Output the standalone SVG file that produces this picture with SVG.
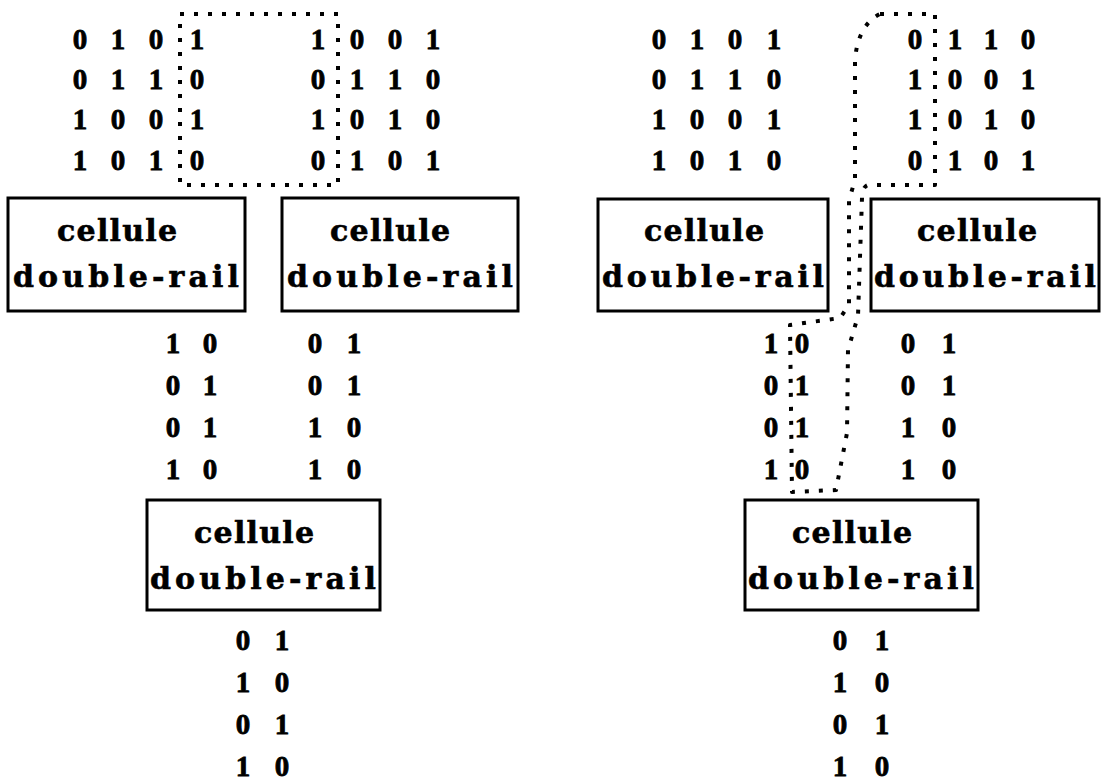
<svg xmlns="http://www.w3.org/2000/svg" width="1101" height="781" viewBox="0 0 1101 781">
<style>
.bg{fill:#fff}
.box{fill:none;stroke:#000;stroke-width:3}
.lbl{font-family:"DejaVu Serif","Liberation Serif",serif;font-weight:bold;font-size:30px;fill:#000;stroke:#000;stroke-width:0.6;text-anchor:middle}
.d{font-family:"Liberation Serif","Times New Roman",serif;font-weight:bold;font-size:29px;fill:#000;stroke:#000;stroke-width:0.8;text-anchor:middle}
.dot{fill:none;stroke:#000;stroke-width:4;stroke-dasharray:4 10;stroke-linejoin:round}
</style>
<rect class="bg" x="0" y="0" width="1101" height="781"/>

<g id="connectors">
  <path class="dot" d="M180 14 L338 14 L338 185 L180 185 Z"/>
  <path class="dot" d="M880 14 L935 14 L935 185 L868 185 Q862 187 862 198 L858 316 L848 350 L847 433 L836 490 L792 492 L790 325 L840 318 L849 305 L849 200 L855 180 L855 60 Q858 25 880 14"/>
</g>

<g id="matrix-a">
  <text class="d" x="80 118 156 197" y="49">0101</text>
  <text class="d" x="80 118 156 197" y="89">0110</text>
  <text class="d" x="80 118 156 197" y="129">1001</text>
  <text class="d" x="80 118 156 197" y="170">1010</text>
</g>
<g id="matrix-b">
  <text class="d" x="318 357 395 433" y="49">1001</text>
  <text class="d" x="318 357 395 433" y="89">0110</text>
  <text class="d" x="318 357 395 433" y="129">1010</text>
  <text class="d" x="318 357 395 433" y="170">0101</text>
</g>
<g id="matrix-c">
  <text class="d" x="659 697 735 774" y="49">0101</text>
  <text class="d" x="659 697 735 774" y="89">0110</text>
  <text class="d" x="659 697 735 774" y="129">1001</text>
  <text class="d" x="659 697 735 774" y="170">1010</text>
</g>
<g id="matrix-d">
  <text class="d" x="915 955 991 1028" y="49">0110</text>
  <text class="d" x="915 955 991 1028" y="89">1001</text>
  <text class="d" x="915 955 991 1028" y="129">1010</text>
  <text class="d" x="915 955 991 1028" y="170">0101</text>
</g>

<g id="cell-1">
  <rect class="box" x="8" y="198" width="237" height="113"/>
  <text class="lbl" x="117" y="241" textLength="120">cellule</text>
  <text class="lbl" x="126" y="287" textLength="226">double-rail</text>
</g>
<g id="cell-2">
  <rect class="box" x="282" y="198" width="236" height="113"/>
  <text class="lbl" x="390" y="241" textLength="120">cellule</text>
  <text class="lbl" x="400" y="287" textLength="226">double-rail</text>
</g>
<g id="cell-4">
  <rect class="box" x="598" y="199" width="230" height="112"/>
  <text class="lbl" x="704" y="241" textLength="120">cellule</text>
  <text class="lbl" x="713" y="287" textLength="222">double-rail</text>
</g>
<g id="cell-5">
  <rect class="box" x="871" y="199" width="228" height="112"/>
  <text class="lbl" x="977" y="241" textLength="120">cellule</text>
  <text class="lbl" x="985" y="287" textLength="222">double-rail</text>
</g>

<g id="pairs-left">
  <text class="d" x="173 210" y="353">10</text>
  <text class="d" x="173 210" y="395">01</text>
  <text class="d" x="173 210" y="437">01</text>
  <text class="d" x="173 210" y="479">10</text>
  <text class="d" x="315 354" y="353">01</text>
  <text class="d" x="315 354" y="395">01</text>
  <text class="d" x="315 354" y="437">10</text>
  <text class="d" x="315 354" y="479">10</text>
</g>
<g id="pairs-right">
  <text class="d" x="771 802" y="353">10</text>
  <text class="d" x="771 802" y="395">01</text>
  <text class="d" x="771 802" y="437">01</text>
  <text class="d" x="771 802" y="479">10</text>
  <text class="d" x="908 949" y="353">01</text>
  <text class="d" x="908 949" y="395">01</text>
  <text class="d" x="908 949" y="437">10</text>
  <text class="d" x="908 949" y="479">10</text>
</g>

<g id="cell-3">
  <rect class="box" x="147" y="500" width="233" height="110"/>
  <text class="lbl" x="254" y="543" textLength="120">cellule</text>
  <text class="lbl" x="263" y="589" textLength="226">double-rail</text>
</g>
<g id="cell-6">
  <rect class="box" x="745" y="500" width="233" height="110"/>
  <text class="lbl" x="852" y="543" textLength="120">cellule</text>
  <text class="lbl" x="861" y="589" textLength="226">double-rail</text>
</g>

<g id="out-left">
  <text class="d" x="243 282" y="650">01</text>
  <text class="d" x="243 282" y="692">10</text>
  <text class="d" x="243 282" y="734">01</text>
  <text class="d" x="243 282" y="776">10</text>
</g>
<g id="out-right">
  <text class="d" x="840 882" y="650">01</text>
  <text class="d" x="840 882" y="692">10</text>
  <text class="d" x="840 882" y="734">01</text>
  <text class="d" x="840 882" y="776">10</text>
</g>
</svg>
